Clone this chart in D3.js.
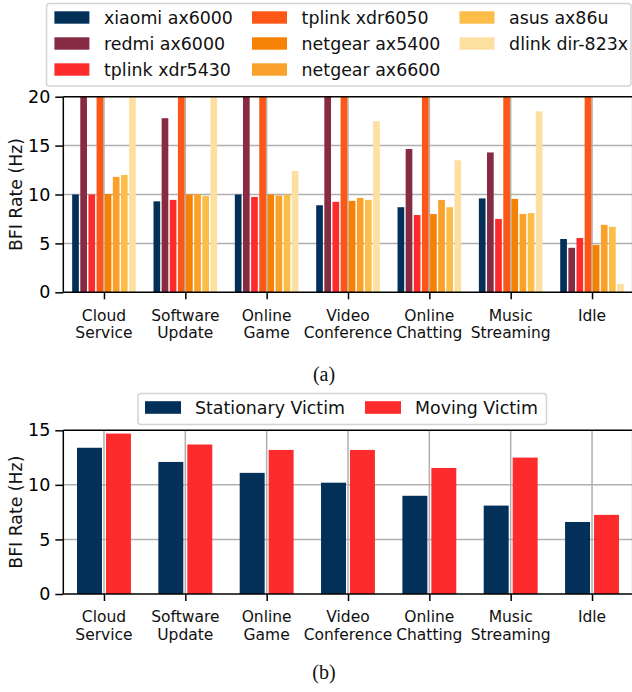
<!DOCTYPE html>
<html><head><meta charset="utf-8">
<script src="https://cdn.jsdelivr.net/npm/d3@7"></script>
<style>body{margin:0;background:#fff} svg{display:block}</style>
</head><body><svg id="c" width="632" height="692"></svg>
<script>
// ---- data ----
const categories = [["Cloud","Service"],["Software","Update"],["Online","Game"],["Video","Conference"],["Online","Chatting"],["Music","Streaming"],["Idle"]];
const routers = ["xiaomi ax6000","redmi ax6000","tplink xdr5430","tplink xdr6050","netgear ax5400","netgear ax6600","asus ax86u","dlink dir-823x"];
const routerColors = ["#023059","#872b43","#fe2b2c","#fd5717","#f78102","#f9a12b","#fcbd49","#fddfa1"];
// values above 20 Hz are clipped at the top of panel (a)
const xiaomi      = [10.0, 9.3, 10.0, 8.9, 8.7, 9.6, 5.45];
const redmi       = [20.0, 17.8, 20.0, 20.0, 14.65, 14.3, 4.55];
const tplink5430  = [10.0, 9.45, 9.75, 9.25, 7.9, 7.5, 5.55];
const tplink6050  = [20.0, 20.0, 20.0, 20.0, 20.0, 20.0, 20.0];
const netgear5400 = [10.05, 10.0, 10.0, 9.35, 8.0, 9.55, 4.85];
const netgear6600 = [11.8, 10.05, 9.9, 9.65, 9.45, 8.0, 6.9];
const asus        = [12.0, 9.85, 10.0, 9.45, 8.7, 8.1, 6.7];
const dlink       = [20.0, 20.0, 12.4, 17.5, 13.5, 18.5, 0.85];
const routerSeries = [xiaomi, redmi, tplink5430, tplink6050, netgear5400, netgear6600, asus, dlink];

const victimLabels = ["Stationary Victim","Moving Victim"];
const victimColors = ["#023059","#fe2b2c"];
const stationary = [13.4, 12.1, 11.1, 10.2, 9.0, 8.1, 6.6];
const moving     = [14.7, 13.7, 13.2, 13.2, 11.55, 12.5, 7.25];
const victimSeries = [stationary, moving];

const topTicks = [0, 5, 10, 15, 20];
const bottomTicks = [0, 5, 10, 15];
const yLabel = "BFI Rate (Hz)";

// ---- drawing ----
const svg = d3.select("#c");
const FONT = "DejaVu Sans";
const GRID = "#b0b0b0";

function panel(cfg) {
  const {top, bottom, ymax, ticks, series, colors, slot, shrink, id} = cfg;
  const left = 63.3, right = 632.7;
  const x = d3.scaleLinear().domain([-0.5, categories.length - 0.5]).range([left, right]);
  const y = d3.scaleLinear().domain([0, ymax]).range([bottom, top]);
  const unit = x(1) - x(0);
  const g = svg.append("g");

  // grid
  g.append("g").selectAll("line").data(ticks.filter(t => t > 0 && t < ymax)).join("line")
    .attr("x1", left).attr("x2", right).attr("y1", d => y(d)).attr("y2", d => y(d))
    .attr("stroke", GRID).attr("stroke-width", 1.5);
  g.append("g").selectAll("line").data(d3.range(categories.length)).join("line")
    .attr("x1", d => x(d)).attr("x2", d => x(d)).attr("y1", top).attr("y2", bottom)
    .attr("stroke", GRID).attr("stroke-width", 1.5);

  // bars
  svg.append("clipPath").attr("id", id).append("rect")
    .attr("x", left).attr("y", top).attr("width", right - left).attr("height", bottom - top);
  const n = series.length;
  const bars = g.append("g").attr("clip-path", `url(#${id})`);
  series.forEach((vals, s) => {
    const off = (s - (n - 1) / 2) * slot;
    bars.append("g").selectAll("rect").data(vals).join("rect")
      .attr("x", (d, i) => x(i + off) - (slot * unit - shrink) / 2)
      .attr("width", slot * unit - shrink)
      .attr("y", d => y(d))
      .attr("height", d => y(0) - y(d))
      .attr("fill", colors[s]);
  });

  // y axis
  const ya = g.append("g").attr("transform", `translate(${left},0)`)
    .call(d3.axisLeft(y).tickValues(ticks).tickSize(8).tickPadding(5).tickFormat(d3.format("d")));
  ya.select(".domain").remove();
  ya.selectAll(".tick line").attr("stroke", "#000").attr("stroke-width", 1.5);
  ya.selectAll(".tick text").attr("font-family", FONT).attr("font-size", 17.5).attr("fill", "#000");

  // x axis
  const xa = g.append("g").attr("transform", `translate(0,${bottom})`)
    .call(d3.axisBottom(x).tickValues(d3.range(categories.length)).tickSize(7).tickFormat(""));
  xa.select(".domain").remove();
  xa.selectAll(".tick line").attr("stroke", "#000").attr("stroke-width", 1.5);
  const lbl = g.append("g").selectAll("text").data(categories).join("text")
    .attr("font-family", FONT).attr("font-size", 15.5).attr("text-anchor", "middle").attr("fill", "#111");
  lbl.each(function(d, i) {
    const t = d3.select(this);
    d.forEach((line, k) => {
      t.append("tspan").attr("x", x(i)).attr("y", bottom + 28.4 + k * 17.6).text(line);
    });
  });

  // spines
  const sp = g.append("g").attr("stroke", "#000").attr("stroke-width", 1.5).attr("fill", "none");
  sp.append("line").attr("x1", left).attr("x2", left).attr("y1", top).attr("y2", bottom);
  sp.append("line").attr("x1", left).attr("x2", right).attr("y1", bottom).attr("y2", bottom);
  sp.append("line").attr("x1", left).attr("x2", right).attr("y1", top).attr("y2", top);
  sp.append("line").attr("x1", right).attr("x2", right).attr("y1", top).attr("y2", bottom);

  // y label
  g.append("text").attr("transform", `translate(21.7,${(top + bottom) / 2}) rotate(-90)`)
    .attr("text-anchor", "middle").attr("font-family", FONT).attr("font-size", 17.3)
    .attr("fill", "#111").text(yLabel);
}

panel({top: 96.7, bottom: 292.3, ymax: 20, ticks: topTicks, series: routerSeries,
       colors: routerColors, slot: 0.1, shrink: 1.45, id: "clipA"});
panel({top: 430.3, bottom: 594, ymax: 15, ticks: bottomTicks, series: victimSeries,
       colors: victimColors, slot: 0.356, shrink: 4, id: "clipB"});

// legend (a)
const legA = svg.append("g");
legA.append("rect").attr("x", 46.5).attr("y", 3.5).attr("width", 584.5).attr("height", 82.5)
  .attr("rx", 3).attr("fill", "#fff").attr("stroke", "#d4d4d4").attr("stroke-width", 1.5);
const colX = [54.4, 252, 459.5];
routers.forEach((r, i) => {
  const cx = colX[Math.floor(i / 3)], cy = 17.5 + (i % 3) * 26;
  legA.append("rect").attr("x", cx).attr("y", cy - 6.2).attr("width", 35).attr("height", 12.4).attr("fill", routerColors[i]);
  legA.append("text").attr("x", cx + 49.6).attr("y", cy).attr("dy", "0.36em")
    .attr("font-family", FONT).attr("font-size", 17.4).attr("fill", "#111").text(r);
});

// legend (b)
const legB = svg.append("g");
legB.append("rect").attr("x", 138).attr("y", 393.5).attr("width", 408.5).attr("height", 31)
  .attr("rx", 3).attr("fill", "#fff").attr("stroke", "#d4d4d4").attr("stroke-width", 1.5);
const colXB = [145, 365];
victimLabels.forEach((r, i) => {
  const cx = colXB[i], cy = 407.5;
  legB.append("rect").attr("x", cx).attr("y", cy - 6.3).attr("width", 36).attr("height", 12.6).attr("fill", victimColors[i]);
  legB.append("text").attr("x", cx + 50).attr("y", cy).attr("dy", "0.36em")
    .attr("font-family", FONT).attr("font-size", 17.4).attr("fill", "#111").text(r);
});

// captions
svg.append("text").attr("x", 324).attr("y", 381).attr("text-anchor", "middle")
  .attr("font-family", "Liberation Serif").attr("font-size", 20).attr("fill", "#111").text("(a)");
svg.append("text").attr("x", 324).attr("y", 679).attr("text-anchor", "middle")
  .attr("font-family", "Liberation Serif").attr("font-size", 20).attr("fill", "#111").text("(b)");
</script>
</body></html>
